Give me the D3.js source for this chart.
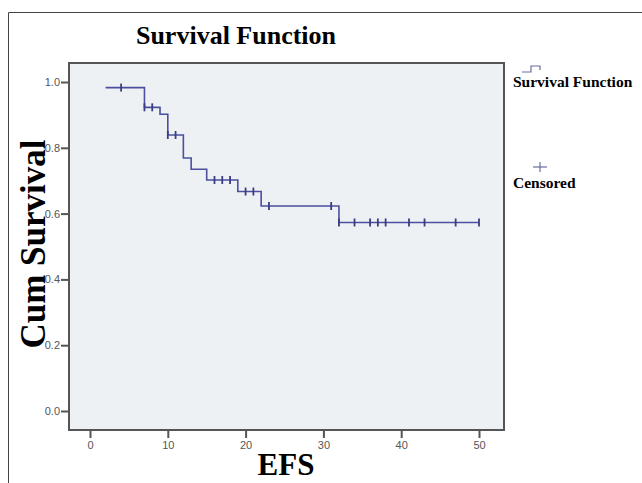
<!DOCTYPE html>
<html>
<head>
<meta charset="utf-8">
<script src="https://cdn.jsdelivr.net/npm/d3@7"></script>
<style>
  body { margin: 0; background: #fff; }
  svg { display: block; }
</style>
</head>
<body>
<div id="chart"></div>
<script>
const width = 642;
const height = 483;

// Kaplan-Meier steps (time, cum survival after the drop)
const stepTimes = [2, 7, 9, 10, 12, 13, 15, 19, 22, 32];
const stepSurv = [0.983, 0.923, 0.902, 0.839, 0.769, 0.735, 0.702, 0.667, 0.623, 0.573];
const endTime = 50;
// censored cases
const censorTimes = [4, 7, 8, 10, 11, 16, 17, 18, 20, 21, 23, 31, 32, 34, 36, 37, 38, 41, 43, 47, 50];

const xTicks = [0, 10, 20, 30, 40, 50];
const yTicks = [0, 0.2, 0.4, 0.6, 0.8, 1.0];

const plot = {left: 69, top: 63, right: 504, bottom: 430};
const lineColor = "#4b4f9e";

const svg = d3.select("#chart")
  .append("svg")
  .attr("width", width)
  .attr("height", height);

// outer frame running off the page
svg.append("path")
  .attr("d", "M8.5," + height + " V12.5 H" + width)
  .attr("fill", "none")
  .attr("stroke", "#444")
  .attr("stroke-width", 1);

const x = d3.scaleLinear().domain([0, 50]).range([90, 479]);
const y = d3.scaleLinear().domain([0, 1]).range([411, 82]);

svg.append("rect")
  .attr("x", plot.left)
  .attr("y", plot.top)
  .attr("width", plot.right - plot.left)
  .attr("height", plot.bottom - plot.top)
  .attr("fill", "#eef1f3")
  .attr("stroke", "#555")
  .attr("stroke-width", 2);

// axes
const yAxis = svg.append("g")
  .attr("transform", "translate(" + (plot.left - 1) + ",0)")
  .call(d3.axisLeft(y).tickValues(yTicks).tickFormat(d3.format(".1f")).tickSize(7).tickPadding(1));

const xAxis = svg.append("g")
  .attr("transform", "translate(0," + (plot.bottom + 1) + ")")
  .call(d3.axisBottom(x).tickValues(xTicks).tickSize(7).tickPadding(3));

[xAxis, yAxis].forEach(a => {
  a.select(".domain").remove();
  a.selectAll(".tick line").attr("stroke", "#555").attr("stroke-width", 2);
  a.selectAll(".tick text")
    .attr("fill", "#555")
    .style("font-family", "Arial, 'Liberation Sans', sans-serif")
    .style("font-size", "11px");
});

// survival step line
const pts = [];
stepTimes.forEach((t, i) => {
  if (i > 0) pts.push([t, stepSurv[i - 1]]);
  pts.push([t, stepSurv[i]]);
});
pts.push([endTime, stepSurv[stepSurv.length - 1]]);

svg.append("path")
  .datum(pts)
  .attr("d", d3.line().x(d => x(d[0])).y(d => y(d[1])))
  .attr("fill", "none")
  .attr("stroke", lineColor)
  .attr("stroke-width", 1.6);

// censor marks sit on the curve
const survAt = t => {
  let s = 1;
  stepTimes.forEach((st, i) => { if (st <= t) s = stepSurv[i]; });
  return s;
};

svg.append("g")
  .selectAll("line")
  .data(censorTimes)
  .join("line")
  .attr("x1", d => x(d))
  .attr("x2", d => x(d))
  .attr("y1", d => y(survAt(d)) - 4)
  .attr("y2", d => y(survAt(d)) + 4)
  .attr("stroke", "#3a3d80")
  .attr("stroke-width", 1.8);

// titles
const serif = "'Liberation Serif', 'Times New Roman', serif";

svg.append("text")
  .text("Survival Function")
  .attr("x", 236)
  .attr("y", 44)
  .attr("text-anchor", "middle")
  .style("font-family", serif)
  .style("font-weight", "bold")
  .style("font-size", "26px");

svg.append("text")
  .text("Cum Survival")
  .attr("transform", "translate(45,244) rotate(-90)")
  .attr("text-anchor", "middle")
  .style("font-family", serif)
  .style("font-weight", "bold")
  .style("font-size", "35px");

svg.append("text")
  .text("EFS")
  .attr("x", 286)
  .attr("y", 475)
  .attr("text-anchor", "middle")
  .style("font-family", serif)
  .style("font-weight", "bold")
  .style("font-size", "31px");

// legend
svg.append("path")
  .attr("d", "M522,72 H531 V66 H540 V70")
  .attr("fill", "none")
  .attr("stroke", "#6a6d9e")
  .attr("stroke-width", 1.2);

svg.append("text")
  .text("Survival Function")
  .attr("x", 513)
  .attr("y", 87)
  .style("font-family", serif)
  .style("font-weight", "bold")
  .style("font-size", "15.5px");

svg.append("line")
  .attr("x1", 533).attr("x2", 547)
  .attr("y1", 167).attr("y2", 167)
  .attr("stroke", "#6a6d9e").attr("stroke-width", 1.2);
svg.append("line")
  .attr("x1", 540).attr("x2", 540)
  .attr("y1", 162).attr("y2", 172)
  .attr("stroke", "#6a6d9e").attr("stroke-width", 1.2);

svg.append("text")
  .text("Censored")
  .attr("x", 513)
  .attr("y", 188)
  .style("font-family", serif)
  .style("font-weight", "bold")
  .style("font-size", "15.5px");
</script>
</body>
</html>
